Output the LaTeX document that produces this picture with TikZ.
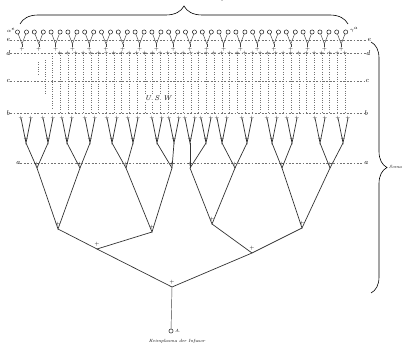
\documentclass[tikz,border=0pt]{standalone}
\usetikzlibrary{decorations.pathreplacing,positioning}

\begin{document}
\begin{tikzpicture}[x=1pt,y=-1pt,
line/.style={line width=0.7pt,black!80},
thin line/.style={line width=0.45pt,black!75},
lvl/.style={dash pattern=on 1.8pt off 1.6pt,line width=0.35pt,black!55},
det/.style={dotted,line width=0.35pt,black!55},
tag/.style={font=\itshape\fontsize{7}{7}\selectfont,inner sep=0pt},
small tag/.style={font=\itshape\fontsize{4.5}{5}\selectfont,inner sep=0pt},
pl/.style={font=\fontsize{5}{5}\selectfont,inner sep=0pt},
germ/.style={circle,draw,line width=0.45pt,inner sep=0pt,minimum size=4.2pt},
brc/.style={decorate,line width=0.6pt}]

\useasboundingbox (0,0) rectangle (403,345);

% level lines e, d, c, b, a
\foreach \n/\y/\xl/\xr in {e/40/8/369,d/53/8/368,c/81/8/367,b/113/8/366,a/163/18/366}{
  \node[tag] (\n l) at (\xl,\y) {\n};
  \node[tag] (\n r) at (\xr,\y) {\n};
  \draw[lvl] (\n l) -- (\n r);
}
\node[small tag] (ael) at (11,30) {$\alpha^{e}$};
\node[small tag] (aer) at (354,30) {$\gamma^{a}$};

% top row of germ cells
\foreach \i in {0,...,19}{
  \pgfmathsetmacro\xv{22+16.8*\i}
  \coordinate (v\i) at (\xv,44);
  \node[germ] (gl\i) at (\xv-4.5,32) {};
  \node[germ] (gr\i) at (\xv+4.5,32) {};
  \node[pl] (p\i) at (\xv,49.5) {+};
  \draw[thin line] (gl\i) -- (v\i) -- (gr\i);
  \draw[thin line] (v\i) -- (p\i);
}

% dotted determinants d -- b
\foreach \i in {0,...,37}{
  \pgfmathsetmacro\xd{60+7.7*\i}
  \coordinate (dt\i) at (\xd,53);
  \coordinate (db\i) at (\xd,113);
  \draw[det] (dt\i) -- (db\i);
  \node[pl] (dp\i) at (dt\i) {+};
}
\foreach \x/\ya/\yb in {38/62/76,45/60/95,52/56/110}{
  \coordinate (ut\x) at (\x,\ya);
  \coordinate (ub\x) at (\x,\yb);
  \draw[det] (ut\x) -- (ub\x);
}
\node[tag,fill=white,inner sep=1.5pt] (usw) at (158,98) {U.\,S.\,W};

% lower tree
\foreach \q/\x in {1/37,2/80,3/126,4/172,5/190,6/235,7/282,8/330}{
  \coordinate (q\q) at (\x,168);
  \node[pl] (qp\q) at (\x,164) {+};
}
\foreach \k/\x/\q in {1/26/1,2/48/1,3/67/2,4/90/2,5/112/3,6/133/3,7/157/4,8/174/4,
  9/190/5,10/206/5,11/222/6,12/247/6,13/272/7,14/292/7,15/320/8,16/343/8}{
  \coordinate (k\k) at (\x,143);
  \coordinate (la\k) at (\x-5,118);
  \coordinate (lb\k) at (\x+5,118);
  \draw[line] (la\k) -- (k\k) -- (lb\k);
  \draw[line] (k\k) -- (q\q);
  \node[pl] (kp\k) at (\x,139) {+};
  \node[pl] (lpa\k) at (la\k) {+};
  \node[pl] (lpb\k) at (lb\k) {+};
}
\coordinate (s1) at (58,229);
\coordinate (s2) at (152,232);
\coordinate (s3) at (212,224);
\coordinate (s4) at (302,228);
\coordinate (t1) at (97,249);
\coordinate (t2) at (252,253);
\coordinate (r) at (172,287);
\draw[line] (q1) -- (s1) -- (q2);
\draw[line] (q3) -- (s2) -- (q4);
\draw[line] (q5) -- (s3) -- (q6);
\draw[line] (q7) -- (s4) -- (q8);
\draw[line] (s1) -- (t1) -- (s2);
\draw[line] (s3) -- (t2) -- (s4);
\draw[line] (t1) -- (r) -- (t2);
\foreach \n in {s1,s2,s3,s4,t1,t2,r}
  \node[pl] (\n p) at ([yshift=4.5pt]\n) {+};

% root cell
\node[germ] (A) at (171,331) {};
\draw[thin line] (r) -- (A);
\node[small tag,right=1.5pt of A] (Alab) {A.};
\node[small tag] (keim) at (177,341) {Keimplasma der Infusor};

% braces
\coordinate (tb1) at (20,24);
\coordinate (tb2) at (348,24);
\draw[brc,decoration={brace,amplitude=18pt}] (tb1) -- (tb2);
\node[tag,anchor=south] (toplab) at (190,1.2) {Determinanten des Keimplasmas};
\coordinate (rb1) at (371,42);
\coordinate (rb2) at (371,293);
\draw[brc,decoration={brace,amplitude=16pt}] (rb1) -- (rb2);
\node[small tag,anchor=west] (soma) at (389,167) {Soma};
\end{tikzpicture}
\end{document}
